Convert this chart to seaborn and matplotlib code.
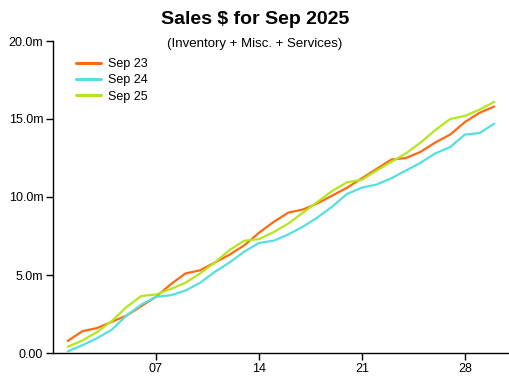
import matplotlib
matplotlib.use('Agg')
import matplotlib.pyplot as plt
import seaborn as sns
import pandas as pd

days = list(range(1, 31))
sep_23 = [0.77, 1.4, 1.6, 2.0, 2.4, 3.0, 3.6, 4.4, 5.1, 5.3,
          5.8, 6.3, 6.9, 7.7, 8.4, 9.0, 9.2, 9.6, 10.1, 10.6,
          11.2, 11.8, 12.4, 12.5, 12.9, 13.5, 14.0, 14.8, 15.4, 15.8]
sep_24 = [0.1, 0.5, 0.95, 1.5, 2.4, 3.1, 3.6, 3.7, 4.0, 4.5,
          5.2, 5.8, 6.5, 7.05, 7.2, 7.6, 8.1, 8.7, 9.4, 10.2,
          10.6, 10.8, 11.2, 11.7, 12.2, 12.8, 13.2, 14.0, 14.1, 14.7]
sep_25 = [0.4, 0.8, 1.35, 2.05, 2.95, 3.65, 3.75, 4.1, 4.5, 5.1,
          5.8, 6.6, 7.2, 7.3, 7.75, 8.3, 9.0, 9.7, 10.4, 10.95,
          11.1, 11.7, 12.25, 12.8, 13.5, 14.3, 15.0, 15.2, 15.6, 16.1]
series_names = ['Sep 23', 'Sep 24', 'Sep 25']
colors = ['#ff6a10', '#55dfdf', '#b5e61d']

x_ticks = [7, 14, 21, 28]
x_labels = ['07', '14', '21', '28']
y_ticks = [0, 5, 10, 15, 20]
y_labels = ['0.00', '5.0m', '10.0m', '15.0m', '20.0m']

frames = []
for name, vals in zip(series_names, [sep_23, sep_24, sep_25]):
    frames.append(pd.DataFrame({'day': days, 'sales': vals, 'month': name}))
df = pd.concat(frames, ignore_index=True)

sns.set_style('white')
plt.rcParams['font.family'] = ['Liberation Sans', 'DejaVu Sans']
plt.rcParams['text.color'] = 'black'
plt.rcParams['xtick.color'] = 'black'
plt.rcParams['ytick.color'] = 'black'

fig = plt.figure(figsize=(5.1, 3.82), dpi=100)
ax = fig.add_axes([53 / 510, 1 - 353 / 382, 456 / 510, 312 / 382])

sns.lineplot(data=df, x='day', y='sales', hue='month', palette=colors,
             linewidth=1.6, ax=ax)

ax.set_xlim(0, 31)
ax.set_ylim(0, 20)
ax.set_xticks(x_ticks)
ax.set_xticklabels(x_labels)
ax.set_yticks(y_ticks)
ax.set_yticklabels(y_labels)
ax.set_xlabel('')
ax.set_ylabel('')
ax.tick_params(direction='out', length=5, width=1, color='black',
               labelsize=9, labelcolor='black', pad=2,
               bottom=True, left=True)

for side in ['top', 'right']:
    ax.spines[side].set_visible(False)
for side in ['left', 'bottom']:
    ax.spines[side].set_color('black')
    ax.spines[side].set_linewidth(1)

leg = ax.legend(loc='upper left', bbox_to_anchor=(18 / 456, 1 - 12 / 312), frameon=False,
                fontsize=9, handlelength=2.0, handletextpad=0.6, labelspacing=0.35,
                borderaxespad=0)
for line in leg.get_lines():
    line.set_linewidth(2.2)

fig.text(0.5, 1 - 20 / 382, 'Sales $ for Sep 2025', ha='center', va='center',
         fontsize=14, fontweight='bold')
fig.text(0.5, 1 - 44 / 382, '(Inventory + Misc. + Services)', ha='center', va='center',
         fontsize=9.5)

fig.savefig('out.png', dpi=100, facecolor='white')
